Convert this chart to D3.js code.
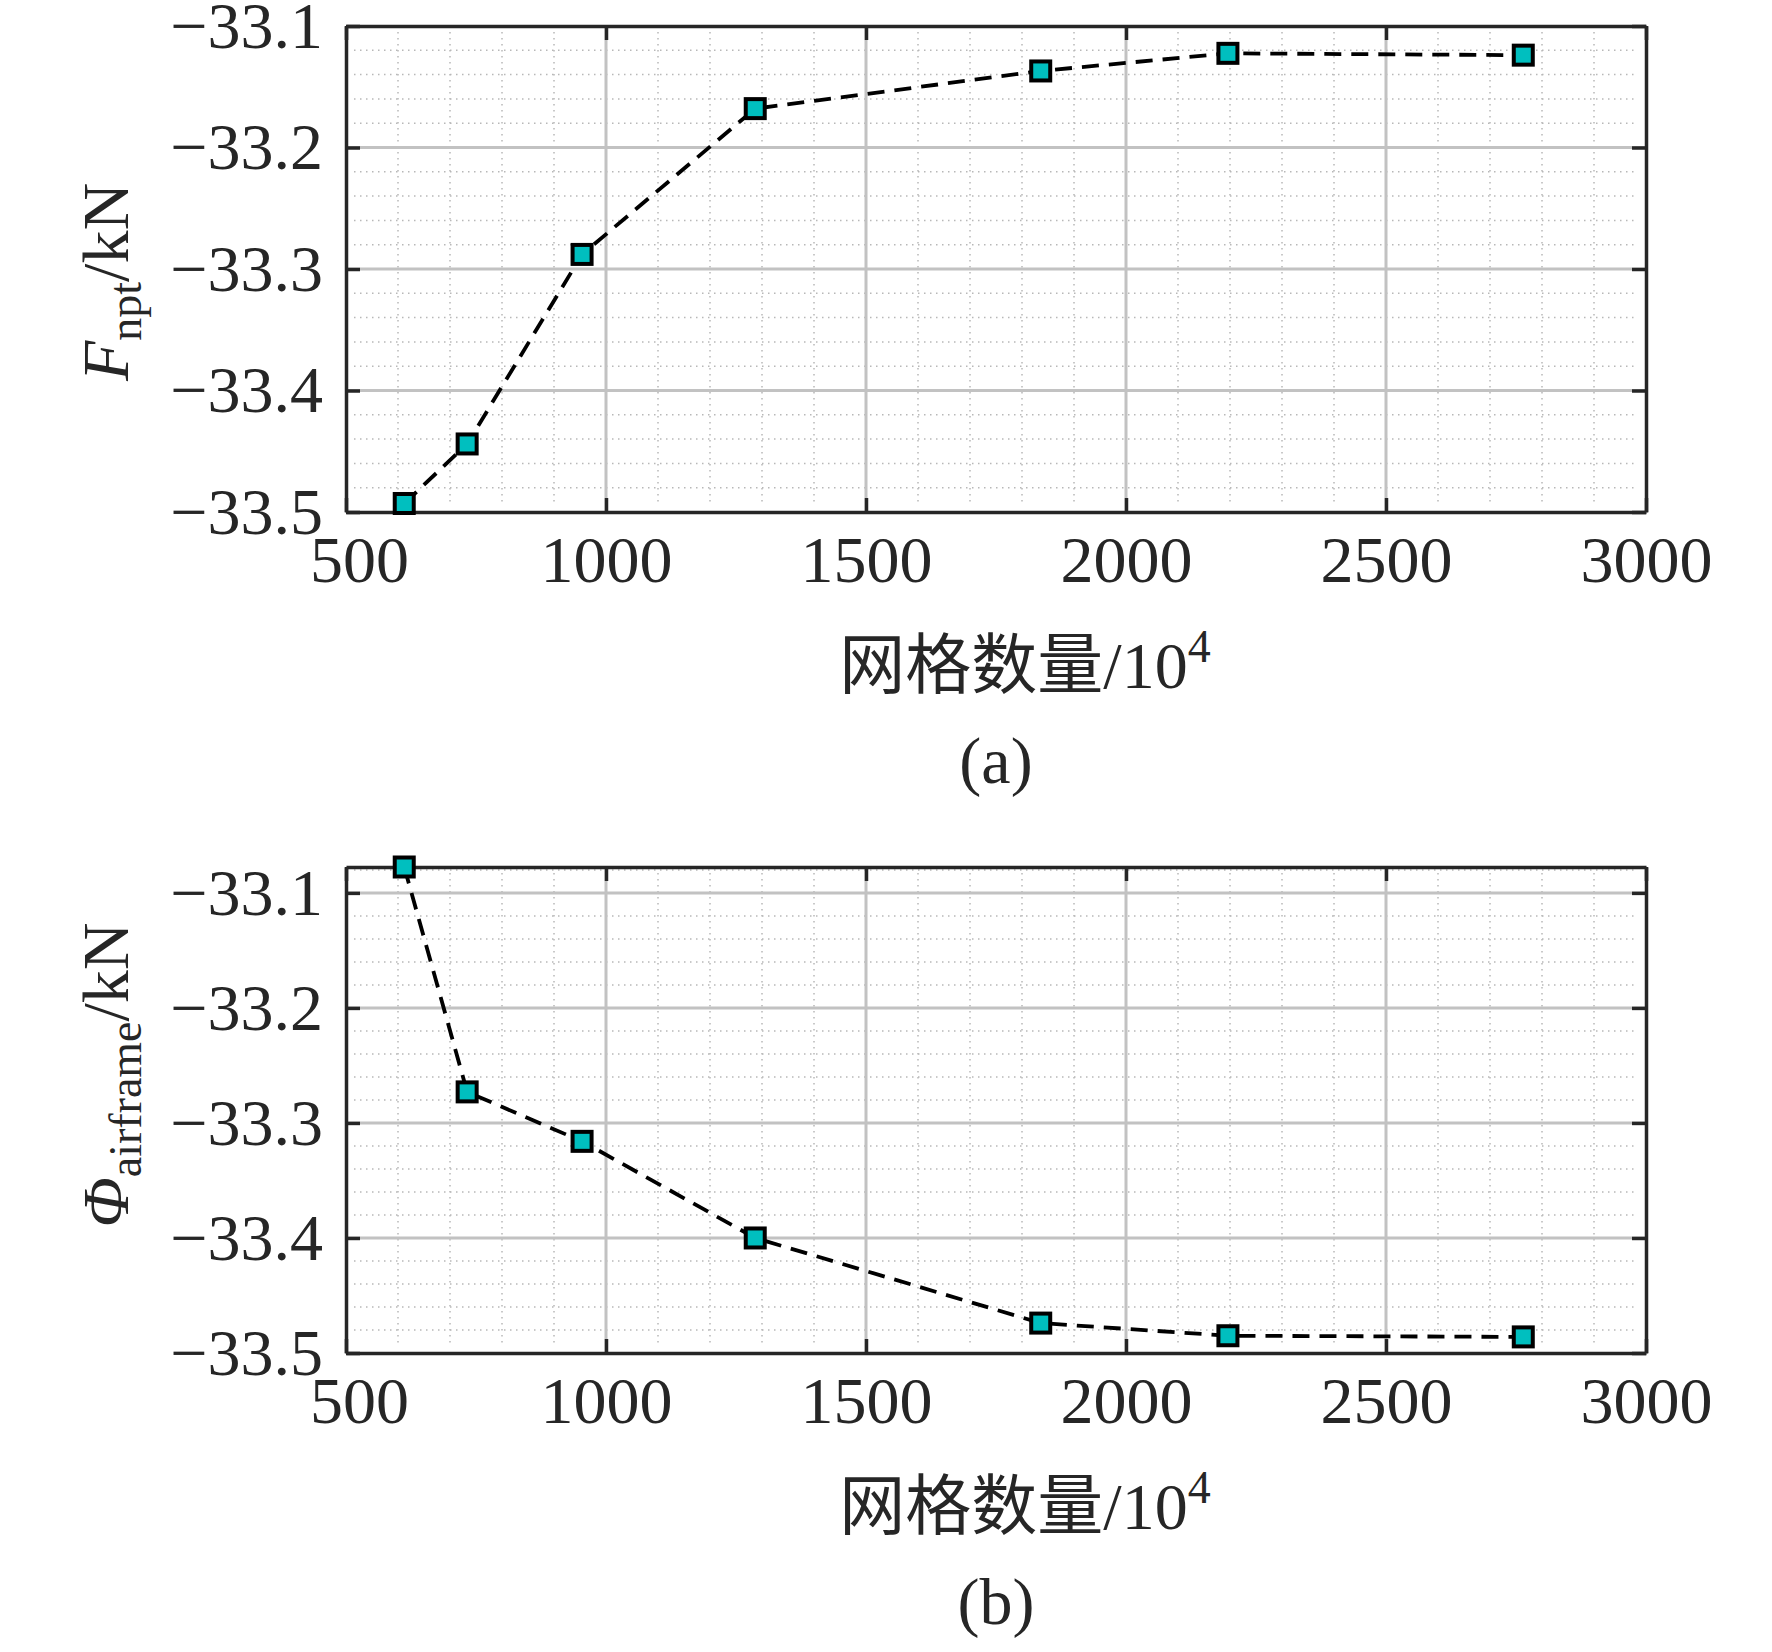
<!DOCTYPE html>
<html>
<head>
<meta charset="utf-8">
<script src="https://cdn.jsdelivr.net/npm/d3@7"></script>
<style>
  body { margin: 0; background: #fff; }
</style>
</head>
<body>
<div id="chart"></div>
<script>
// Values
const meshCount = [612, 733, 954, 1287, 1836, 2196, 2764];
const forceNpt = [-33.493, -33.444, -33.288, -33.168, -33.137, -33.1225, -33.124];
const forceAirframe = [-33.0775, -33.273, -33.316, -33.400, -33.474, -33.485, -33.486];

const xTicks = [500, 1000, 1500, 2000, 2500, 3000];
const yTicks = [-33.5, -33.4, -33.3, -33.2, -33.1];
const xMinorStep = 100;
const yMinorStep = 0.02;
const xLimits = [500, 3000];
const yLimitsA = [-33.5, -33.1];
const yLimitsB = [-33.5, -33.0775];
const panelTags = ["(a)", "(b)"];

// Layout
const margin = { top: 26, right: 126, bottom: 0, left: 346 };
const width = 1772 - margin.left - margin.right;
const height = 486;
const panelStep = 841;
const fontSize = 66;
const subSize = 46;
const ink = "#262626";

const svg = d3.select("#chart")
  .append("svg")
    .attr("width", 1772)
    .attr("height", 1652)
    .style("font-family", "'Liberation Serif', 'Times New Roman', serif");

const x = d3.scaleLinear().domain(xLimits).range([0, width]);

function drawPanel(index, values, yLimits, labelParts, labelCenter) {
  const g = svg.append("g")
      .attr("transform", `translate(${margin.left},${margin.top + index * panelStep})`);

  const y = d3.scaleLinear().domain(yLimits).range([height, 0]);

  // minor grid (dotted)
  const xMinor = d3.range(xLimits[0], xLimits[1] + 1, xMinorStep).filter(v => v % 500 !== 0);
  const yMinor = d3.range(-33.5, yLimits[1] + 1e-9, yMinorStep)
      .filter(v => Math.abs(Math.round(v * 10) - v * 10) > 1e-6);

  g.append("g").selectAll("line").data(xMinor).join("line")
      .attr("x1", d => x(d)).attr("x2", d => x(d))
      .attr("y1", 6).attr("y2", height - 6)
      .attr("stroke", "#b8b8b8").attr("stroke-width", 1.5)
      .attr("stroke-dasharray", "1.5,4.5");

  g.append("g").selectAll("line").data(yMinor).join("line")
      .attr("x1", 8).attr("x2", width - 8)
      .attr("y1", d => y(d)).attr("y2", d => y(d))
      .attr("stroke", "#b8b8b8").attr("stroke-width", 1.5)
      .attr("stroke-dasharray", "1.5,4.5");

  // major grid
  g.append("g").selectAll("line").data(xTicks.slice(1, -1)).join("line")
      .attr("x1", d => x(d)).attr("x2", d => x(d))
      .attr("y1", 0).attr("y2", height)
      .attr("stroke", "#c2c2c2").attr("stroke-width", 3);

  g.append("g").selectAll("line").data(yTicks.filter(v => v > yLimits[0] && v < yLimits[1])).join("line")
      .attr("x1", 0).attr("x2", width)
      .attr("y1", d => y(d)).attr("y2", d => y(d))
      .attr("stroke", "#c2c2c2").attr("stroke-width", 3);

  // axes, ticks pointing inward on all four sides
  const bottom = g.append("g")
      .attr("transform", `translate(0,${height})`)
      .call(d3.axisBottom(x).tickValues(xTicks).tickSizeInner(-14).tickSizeOuter(0)
        .tickPadding(23).tickFormat(d3.format("d")));
  bottom.selectAll("text").filter(d => d === 500).attr("dx", 13);

  g.append("g")
      .call(d3.axisTop(x).tickValues(xTicks).tickSizeInner(-14).tickSizeOuter(0).tickFormat(""));

  g.append("g")
      .call(d3.axisLeft(y).tickValues(yTicks).tickSizeInner(-14).tickSizeOuter(0)
        .tickPadding(23).tickFormat(d3.format(".1f")));

  g.append("g")
      .attr("transform", `translate(${width},0)`)
      .call(d3.axisRight(y).tickValues(yTicks).tickSizeInner(-14).tickSizeOuter(0).tickFormat(""));

  g.selectAll(".domain").attr("stroke", ink).attr("stroke-width", 3.5);
  g.selectAll(".tick line").attr("stroke", ink).attr("stroke-width", 3.5);
  g.selectAll(".tick text")
      .attr("fill", ink)
      .style("font-size", fontSize + "px")
      .style("font-family", "'Liberation Serif', serif");

  // series
  const points = meshCount.map((m, i) => ({ m: m, v: values[i] }));

  const line = d3.line()
    .x(d => x(d.m))
    .y(d => y(d.v));

  g.append("path")
      .datum(points)
      .attr("fill", "none")
      .attr("stroke", "#000")
      .attr("stroke-width", 3.8)
      .attr("stroke-dasharray", "17,10")
      .attr("d", line);

  g.append("g").selectAll("rect").data(points).join("rect")
      .attr("x", d => x(d.m) - 9.5)
      .attr("y", d => y(d.v) - 9.5)
      .attr("width", 19)
      .attr("height", 19)
      .attr("fill", "#00bfbf")
      .attr("stroke", "#000")
      .attr("stroke-width", 4);

  // y label
  const yl = g.append("text")
      .attr("transform", `translate(-218,${labelCenter}) rotate(-90)`)
      .attr("text-anchor", "middle")
      .attr("fill", ink)
      .style("font-size", fontSize + "px");
  yl.append("tspan").style("font-style", "italic").text(labelParts[0]);
  yl.append("tspan").style("font-size", subSize + "px").attr("dy", 13).text(labelParts[1]);
  yl.append("tspan").attr("dy", -13).text("/kN");

  // x label
  const xl = g.append("text")
      .attr("x", 679)
      .attr("y", 662)
      .attr("text-anchor", "middle")
      .attr("fill", ink)
      .style("font-size", fontSize + "px")
      .style("font-family", "'Liberation Serif', 'Noto Sans CJK SC', serif");
  xl.append("tspan").text("网格数量/10");
  xl.append("tspan").style("font-size", subSize + "px").attr("dy", -26).text("4");

  // panel tag
  g.append("text")
      .attr("x", 650)
      .attr("y", 757)
      .attr("text-anchor", "middle")
      .attr("fill", ink)
      .style("font-size", fontSize + "px")
      .text(panelTags[index]);
}

drawPanel(0, forceNpt, yLimitsA, ["F", "npt"], 256);
drawPanel(1, forceAirframe, yLimitsB, ["Φ", "airframe"], 208);
</script>
</body>
</html>
